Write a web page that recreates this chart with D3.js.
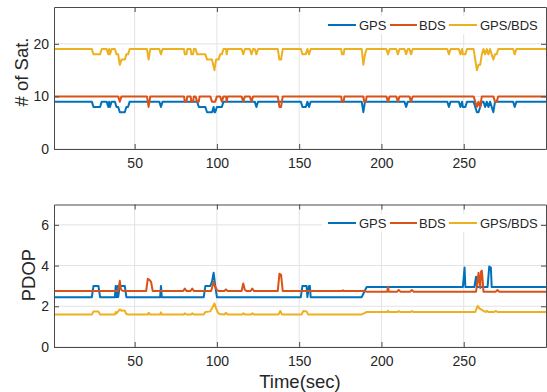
<!DOCTYPE html>
<html>
<head>
<meta charset="utf-8">
<script src="https://cdn.jsdelivr.net/npm/d3@7"></script>
<style>
  html, body { margin: 0; padding: 0; background: #fff; }
  svg { display: block; }
  text { font-family: "Liberation Sans", Arial, Helvetica, sans-serif; fill: #262626; }
</style>
</head>
<body>
<svg id="chart" width="547" height="392"></svg>
<script>
// ---------------- DATA ----------------
const seriesNames = ["GPS", "BDS", "GPS/BDS"];
const xTicks = [50, 100, 150, 200, 250];
const satTicks = [0, 10, 20];
const pdopTicks = [0, 2, 4, 6];
const xLabel = "Time(sec)";
const satLabel = "# of Sat.";
const pdopLabel = "PDOP";

// [time (s), number of satellites]
const gpsSat = [[1,9],[24,9],[25,8],[29,8],[30,9],[33,9],[34,8],[34.5,9],[35,8],[36,9],[38,9],[39,8],[40,8],[41,7],[44,7],[45,8],[46,8],[47,9],
  [65,9],[66,8],[67,9],[88,9],[89,8],[93,8],[94,7],[97,7],[98,8],[98.5,7],[99,7],[100,8],[103,8],[104,9],[123,9],[124,8],[125,9],
  [151,9],[152,8],[154,8],[155,9],[156,8],[157,9],[188,9],[189,7],[190,9],[214,9],[215,8],[216,9],[240,9],[241,8],[242,9],
  [247,9],[248,8],[249,9],[249.5,8],[251,8],[252,9],[256,9],[257,8],[258,7],[259,7],[260,8],[261,9],[262,9],[263,8],[264,9],
  [265,8],[266,9],[267,8],[268,7],[269,9],[280,9],[281,8],[282,9],[300,9]];
const bdsSat = [[1,10],[40,10],[41,9],[42,10],[57.5,10],[58.5,8],[59.5,10],[80,10],[80.5,9],[81.5,9],[82,10],[84,10],[84.5,9],[85.5,9],[86,10],
  [87,10],[88,9],[89,9],[89.5,10],[96,10],[97,9],[99,9],[100,10],[102,10],[103,9],[104,10],[105.5,10],[106,9],[106.5,10],
  [115,10],[116,9],[117,10],[120,10],[121,9],[122,10],[137,10],[138,8],[139,8],[140,10],[175.5,10],[176,9],[177,9],[177.5,10],
  [189,10],[189.5,9],[190.5,9],[191,10],[203,10],[204,9],[205,10],[209,10],[210,9],[211,10],[217,10],[218,9],[219,10],
  [256,10],[257,9],[258,8],[259,9],[260,8],[261,10],[268,10],[269,9],[270,9],[271,10],[300,10]];
const combSat = [[1,19],[24,19],[25,18],[29,18],[30,19],[33,19],[34,18],[34.5,19],[35,18],[36,19],[38,19],[39,18],[40,18],[41,16],[42,17],[44,17],[45,18],[46,18],[47,19],
  [57.5,19],[58.5,17],[59.5,19],[65,19],[66,18],[67,19],[80,19],[80.5,18],[81.5,18],[82,19],[84,19],[84.5,18],[85.5,18],[86,19],
  [87,19],[88,18],[93,18],[94,17],[97,17],[98.5,15],[99.5,17],[101,17],[102,18],[103,18],[104,19],[105.5,19],[106,18],[106.5,19],
  [115,19],[116,18],[117,19],[120,19],[121,18],[122,19],[123,19],[124,18],[125,19],[137,19],[138,17],[139,17],[140,19],
  [151,19],[152,18],[154,18],[155,19],[156,18],[157,19],[175.5,19],[176,18],[177,18],[177.5,19],[188,19],[189,16],[190,18],[191,19],
  [203,19],[204,18],[205,19],[209,19],[210,18],[211,19],[214,19],[215,18],[216,19],[217,19],[218,18],[219,19],
  [240,19],[241,18],[242,19],[247,19],[248,18],[249,19],[249.5,18],[251,18],[252,19],[256,19],[257,17],[258,15],[259,16],[260,16],
  [261,18],[262,19],[263,18],[264,19],[265,18],[266,19],[267,18],[268,17],[269,18],[270,18],[271,19],[280,19],[281,18],[282,19],[300,19]];

// [time (s), PDOP]
const gpsPdop = [[1,2.45],[24,2.45],[25,3.0],[28,3.0],[29,2.45],[38,2.45],[38.5,3.0],[39,2.45],[39.5,3.0],[40,2.45],[41,3.0],[44,3.0],[45,2.45],
  [65.5,2.45],[66,3.0],[66.5,2.45],[92,2.45],[93,3.0],[96,3.0],[97,3.2],[98,3.65],[99,3.0],[100,2.45],
  [151,2.45],[152,3.0],[154.5,3.0],[155,2.45],[156,3.0],[156.5,3.0],[157,2.45],[188,2.45],[189.5,2.7],[191,2.95],
  [249.5,2.95],[250.5,3.9],[251,2.95],[256.5,2.95],[257.5,3.45],[258,2.95],[264.5,2.95],[265.5,3.95],[266.5,3.9],[267,2.95],[300,2.95]];
const bdsPdop = [[1,2.75],[40,2.75],[41,3.25],[41.5,2.9],[42,2.8],[43,2.75],[57,2.75],[58,3.35],[59,3.3],[60,3.2],[61,2.75],
  [79.5,2.75],[80.5,2.87],[81.5,2.75],[84,2.75],[85,2.87],[86,2.75],[96.5,2.75],[98,3.2],[99,2.95],[100,2.8],[101,2.75],
  [104.5,2.75],[105.5,2.83],[106.5,2.75],[115,2.75],[116,3.12],[117,2.8],[118,2.75],[120.5,2.75],[121.5,2.87],[122.5,2.75],
  [137,2.75],[138,3.6],[139,3.55],[140,2.75],[176,2.75],[176.5,2.79],[177,2.75],[189,2.75],[191,2.72],
  [203.5,2.72],[204,2.96],[204.5,2.72],[209.5,2.72],[210.5,2.8],[211.5,2.72],[217.5,2.72],[218.5,2.8],[219.5,2.72],
  [257.5,2.72],[258.5,3.3],[259,3.65],[259.5,3.2],[260,2.9],[260.5,3.7],[261,3.75],[261.5,3.3],[262,2.72],
  [269.5,2.72],[270.5,2.8],[271.5,2.72],[300,2.72]];
const combPdop = [[1,1.6],[24,1.6],[25,1.74],[28,1.74],[29,1.6],[38,1.6],[38.5,1.72],[39,1.65],[40,1.75],[41,1.85],[42,1.78],[43,1.8],[44,1.78],[45,1.62],[46,1.6],
  [58,1.6],[58.5,1.68],[59.5,1.6],[65.5,1.6],[66,1.7],[66.5,1.6],[80,1.6],[80.5,1.66],[81.5,1.6],[84.5,1.6],[85,1.66],[86,1.6],
  [92,1.6],[93,1.72],[96,1.75],[97,1.9],[98.5,2.14],[99.5,1.9],[100.5,1.7],[101.5,1.62],[104.5,1.6],[105.5,1.68],[106.5,1.6],
  [115.5,1.6],[116,1.65],[117,1.6],[121,1.6],[121.5,1.65],[122.5,1.6],[137.5,1.6],[138.5,1.77],[139.5,1.6],
  [151.5,1.6],[152.5,1.77],[154.5,1.75],[155.5,1.6],[188,1.6],[190,1.68],[191,1.72],
  [203.5,1.72],[204,1.78],[204.5,1.72],[209.5,1.72],[210.5,1.76],[211.5,1.72],[217.5,1.72],[218.5,1.76],[219.5,1.72],
  [257,1.72],[258.5,2.02],[259.5,1.9],[260.5,1.85],[261.5,1.8],[262.5,1.75],[263.5,1.72],[264,1.78],[265,1.72],
  [268.5,1.72],[269.5,1.77],[270.5,1.72],[300,1.72]];

const colors = ["#0072BD", "#D95319", "#EDB120"];

// ---------------- DRAW ----------------
const svg = d3.select("#chart");
const xDomain = [1, 300];
const xRange = [54, 546];

function panel(opts) {
  const x = d3.scaleLinear().domain(xDomain).range(xRange);
  const y = d3.scaleLinear().domain(opts.yDomain).range([opts.bottom, opts.top]);
  const g = svg.append("g");

  // grid
  g.append("g").selectAll("line").data(xTicks).join("line")
    .attr("x1", d => x(d)).attr("x2", d => x(d)).attr("y1", opts.top).attr("y2", opts.bottom)
    .attr("stroke", "#e3e3e3").attr("stroke-width", 1);
  g.append("g").selectAll("line").data(opts.yTicks).join("line")
    .attr("x1", xRange[0]).attr("x2", xRange[1]).attr("y1", d => y(d)).attr("y2", d => y(d))
    .attr("stroke", "#e3e3e3").attr("stroke-width", 1);

  // lines
  const line = d3.line().x(d => x(d[0])).y(d => y(d[1]));
  opts.series.forEach((s, i) => {
    g.append("path").datum(s).attr("d", line)
      .attr("fill", "none").attr("stroke", colors[i]).attr("stroke-width", 2)
      .attr("stroke-linejoin", "round");
  });

  // axes (inward ticks, box)
  const tickLen = 5;
  const fmt = d3.format("d");
  const axB = d3.axisBottom(x).tickValues(xTicks).tickFormat(fmt).tickSizeInner(-tickLen).tickSizeOuter(0).tickPadding(9);
  const axT = d3.axisTop(x).tickValues(xTicks).tickSizeInner(-tickLen).tickSizeOuter(0).tickFormat("");
  const axL = d3.axisLeft(y).tickValues(opts.yTicks).tickFormat(fmt).tickSizeInner(-tickLen).tickSizeOuter(0).tickPadding(5);
  const axR = d3.axisRight(y).tickValues(opts.yTicks).tickSizeInner(-tickLen).tickSizeOuter(0).tickFormat("");
  const style = a => {
    a.selectAll("path").attr("stroke", "#4a4a4a");
    a.selectAll("line").attr("stroke", "#4a4a4a");
    a.selectAll("text").attr("fill", "#262626").style("font-size", "14px")
      .style("font-family", '"Liberation Sans", Arial, sans-serif');
  };
  g.append("g").attr("transform", `translate(0,${opts.bottom})`).call(axB).call(style);
  g.append("g").attr("transform", `translate(0,${opts.top})`).call(axT).call(style);
  g.append("g").attr("transform", `translate(${xRange[0]},0)`).call(axL).call(style);
  g.append("g").attr("transform", `translate(${xRange[1]},0)`).call(axR).call(style);

  // y label
  g.append("text")
    .attr("transform", `translate(${opts.ylabelX},${opts.ylabelY}) rotate(-90)`)
    .attr("text-anchor", "middle").style("font-size", "18.5px").text(opts.ylabel);

  // legend
  const legY = opts.legendY;
  const items = [
    {x1: 328, x2: 356, tx: 359},
    {x1: 390, x2: 417, tx: 419},
    {x1: 449, x2: 477, tx: 480}
  ];
  g.append("rect").attr("x", 322).attr("y", legY - 9).attr("width", 218).attr("height", 18).attr("fill", "#fff");
  items.forEach((it, i) => {
    g.append("line").attr("x1", it.x1).attr("x2", it.x2).attr("y1", legY).attr("y2", legY)
      .attr("stroke", colors[i]).attr("stroke-width", 2);
    g.append("text").attr("x", it.tx).attr("y", legY).attr("dy", "0.35em")
      .style("font-size", "13px").text(seriesNames[i]);
  });
}

panel({
  yDomain: [0, 27], top: 7, bottom: 149, yTicks: satTicks,
  series: [gpsSat, bdsSat, combSat], ylabel: satLabel, ylabelX: 28, ylabelY: 72, legendY: 25
});
panel({
  yDomain: [0, 7], top: 204.5, bottom: 347, yTicks: pdopTicks,
  series: [gpsPdop, bdsPdop, combPdop], ylabel: pdopLabel, ylabelX: 35, ylabelY: 275, legendY: 223
});

svg.append("text").attr("x", 300).attr("y", 388).attr("text-anchor", "middle")
  .style("font-size", "18.5px").text(xLabel);
</script>
</body>
</html>
